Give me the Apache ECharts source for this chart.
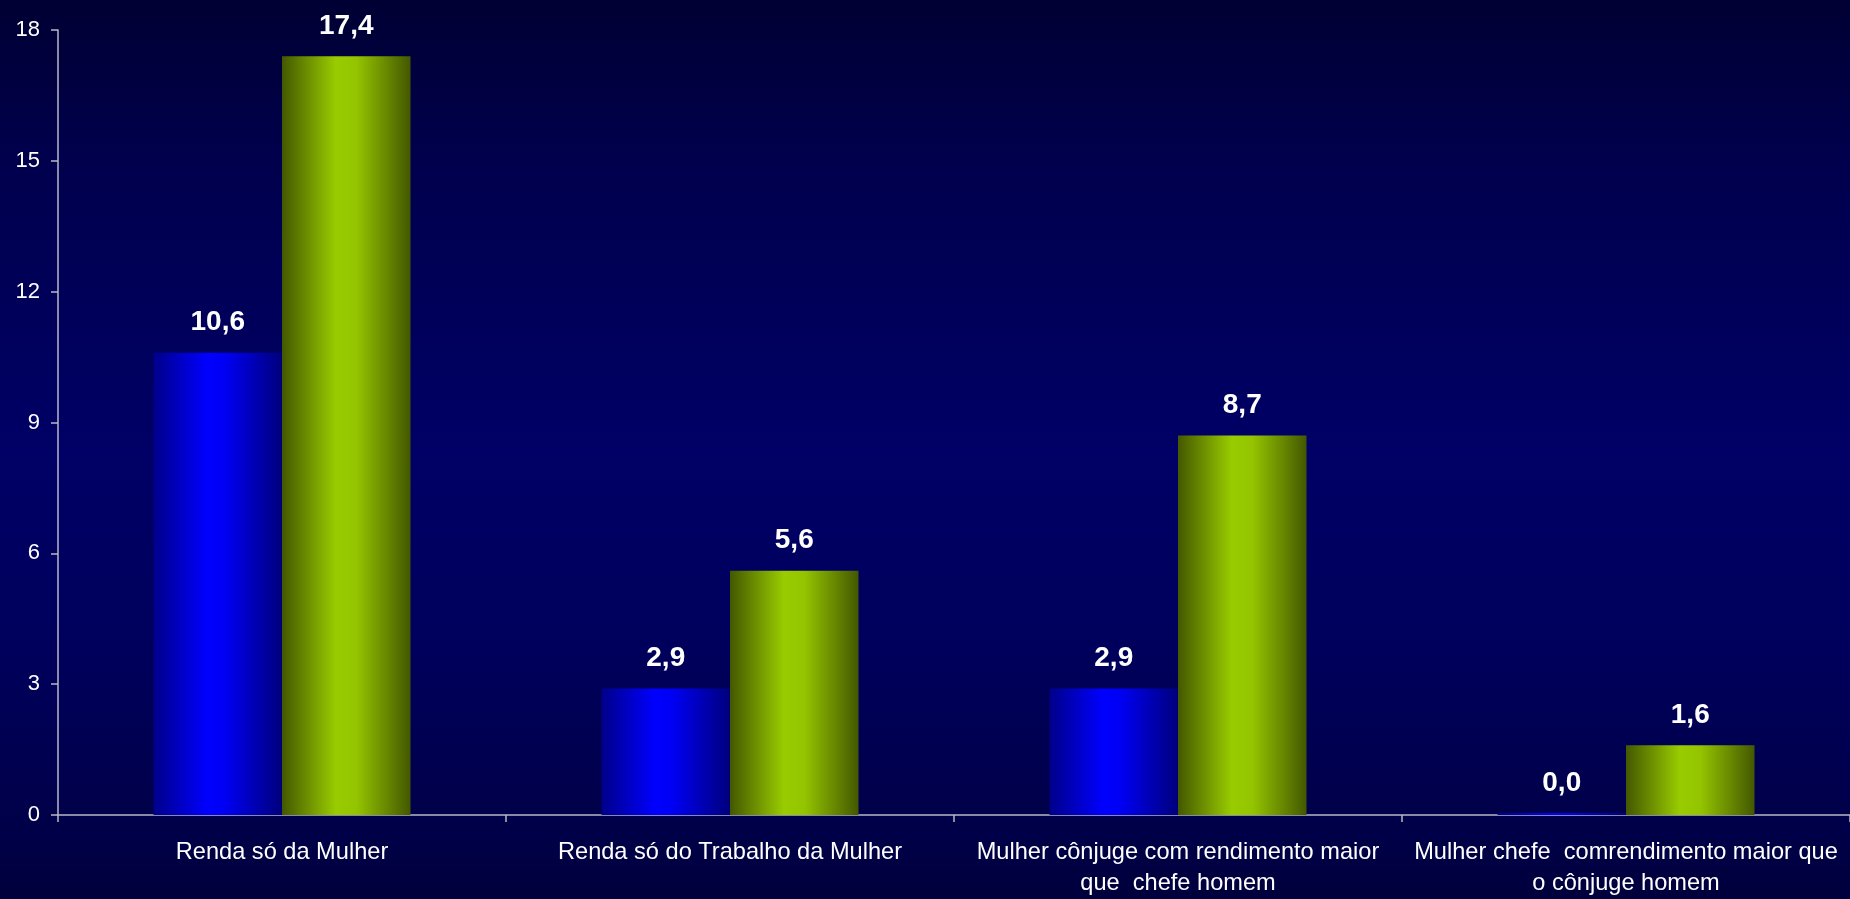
<!DOCTYPE html>
<html>
<head>
<meta charset="utf-8">
<style>
  html, body { margin: 0; padding: 0; width: 1850px; height: 899px; overflow: hidden; }
  #chart { width: 1850px; height: 899px; }
</style>
<script src="https://cdn.jsdelivr.net/npm/echarts@6/dist/echarts.min.js"></script>
</head>
<body>
<div id="chart"></div>
<script>
const categories = [
  'Renda só da Mulher',
  'Renda só do Trabalho da Mulher',
  'Mulher cônjuge com rendimento maior\nque  chefe homem',
  'Mulher chefe  comrendimento maior que\no cônjuge homem'
];
const seriesBlue = [10.6, 2.9, 2.9, 0.0];
const seriesGreen = [17.4, 5.6, 8.7, 1.6];
const yTicks = { min: 0, max: 18, interval: 3 };

const chart = echarts.init(document.getElementById('chart'), null, { renderer: 'canvas' });

function hGrad(stops) {
  return new echarts.graphic.LinearGradient(0, 0, 1, 0, stops);
}
const blueFill = hGrad([
  { offset: 0, color: '#00008a' },
  { offset: 0.42, color: '#0000ff' },
  { offset: 0.55, color: '#0000f4' },
  { offset: 1, color: '#00007c' }
]);
const greenFill = hGrad([
  { offset: 0, color: '#445800' },
  { offset: 0.42, color: '#99cc00' },
  { offset: 0.58, color: '#94c400' },
  { offset: 1, color: '#445800' }
]);

const labelStyle = {
  show: true,
  position: 'top',
  distance: 16,
  color: '#ffffff',
  fontFamily: 'Liberation Sans, Arial, sans-serif',
  fontWeight: 'bold',
  fontSize: 28,
  formatter: p => p.value.toFixed(1).replace('.', ',')
};

chart.setOption({
  backgroundColor: new echarts.graphic.LinearGradient(0, 0, 0, 1, [
    { offset: 0, color: '#000033' },
    { offset: 0.17, color: '#00004c' },
    { offset: 0.5, color: '#000066' },
    { offset: 0.72, color: '#00005c' },
    { offset: 0.93, color: '#000048' },
    { offset: 1, color: '#00003c' }
  ]),
  animation: false,
  grid: { left: 58, right: 0, top: 30, bottom: 83.5, containLabel: false },
  xAxis: {
    type: 'category',
    data: categories,
    axisLine: { show: true, lineStyle: { color: '#b8b8c8', width: 1.5 } },
    axisTick: { show: true, length: 7, lineStyle: { color: '#b8b8c8', width: 1.5 } },
    axisLabel: {
      color: '#ffffff',
      fontFamily: 'Liberation Sans, Arial, sans-serif',
      fontSize: 23.6,
      lineHeight: 31,
      margin: 22,
      interval: 0
    },
    splitLine: { show: false }
  },
  yAxis: {
    type: 'value',
    min: yTicks.min,
    max: yTicks.max,
    interval: yTicks.interval,
    axisLine: { show: true, lineStyle: { color: '#b8b8c8', width: 1.5 } },
    axisTick: { show: true, inside: false, length: 7, lineStyle: { color: '#b8b8c8', width: 1.5 } },
    axisLabel: {
      color: '#ffffff',
      fontFamily: 'Liberation Sans, Arial, sans-serif',
      fontSize: 22,
      margin: 18
    },
    splitLine: { show: false }
  },
  series: [
    {
      type: 'bar',
      data: seriesBlue,
      barWidth: 128.5,
      barGap: '0%',
      barMinHeight: 2,
      itemStyle: { color: blueFill },
      label: labelStyle
    },
    {
      type: 'bar',
      data: seriesGreen,
      barWidth: 128.5,
      barGap: '0%',
      itemStyle: { color: greenFill },
      label: labelStyle
    }
  ]
});
</script>
</body>
</html>
